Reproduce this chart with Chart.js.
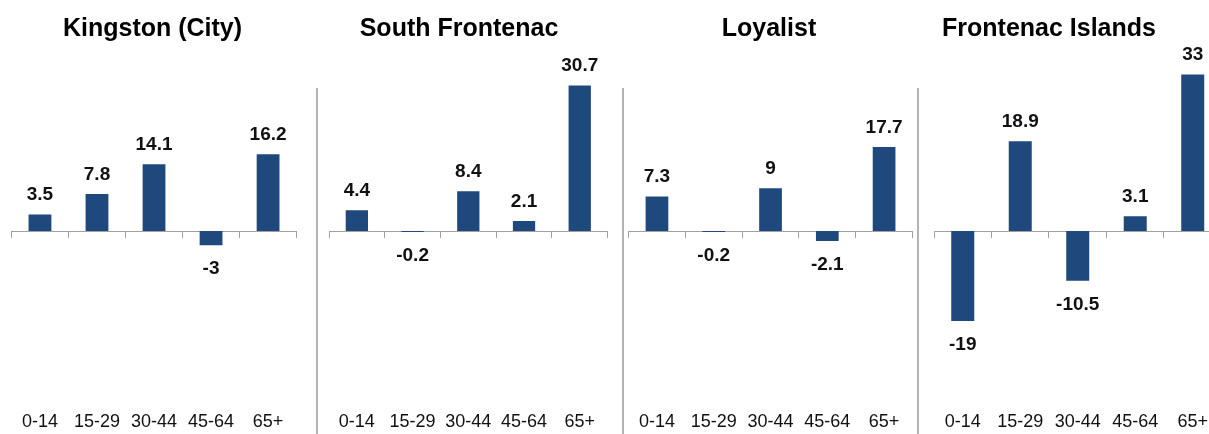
<!DOCTYPE html>
<html lang="en">

<head>
  <meta charset="UTF-8" />
  <title>Population change by age group</title>
  <script src="https://cdn.jsdelivr.net/npm/chart.js@4.4.1/dist/chart.umd.min.js"></script>
  <style>
    html, body { margin: 0; padding: 0; background: #fff; overflow: hidden; }
    body { width: 1209px; height: 434px; position: relative; }
    canvas { position: absolute; top: 0; }
    .sep { position: absolute; top: 88px; height: 346px; width: 2px; background: #b3b3b3; }
  </style>
</head>

<body>
  <canvas id="c0" width="289" height="434" style="left:8px"></canvas>
  <canvas id="c1" width="300" height="434" style="left:309px"></canvas>
  <canvas id="c2" width="288" height="434" style="left:625px"></canvas>
  <canvas id="c3" width="346" height="434" style="left:876px"></canvas>
  <div class="sep" style="left:316px"></div>
  <div class="sep" style="left:622px"></div>
  <div class="sep" style="left:917px"></div>

<script>
  // data
  const categories = ['0-14', '15-29', '30-44', '45-64', '65+'];
  const titles = ['Kingston (City)', 'South Frontenac', 'Loyalist', 'Frontenac Islands'];
  const kingston = [3.5, 7.8, 14.1, -3, 16.2];
  const southFrontenac = [4.4, -0.2, 8.4, 2.1, 30.7];
  const loyalist = [7.3, -0.2, 9, -2.1, 17.7];
  const frontenacIslands = [-19, 18.9, -10.5, 3.1, 33];
  const series = [kingston, southFrontenac, loyalist, frontenacIslands];

  // left space in each canvas before the plot area (keeps titles centred like the original)
  const leftPad = [0, 20, 0, 58];

  const FONT = '"Liberation Sans", Arial, sans-serif';
  Chart.defaults.font.family = FONT;

  // value labels above / below each bar
  const valueLabels = {
    id: 'valueLabels',
    afterDatasetsDraw(chart) {
      const ctx = chart.ctx;
      const meta = chart.getDatasetMeta(0);
      const data = chart.data.datasets[0].data;
      ctx.save();
      ctx.font = 'bold 19px ' + FONT;
      ctx.fillStyle = '#111';
      ctx.textAlign = 'center';
      ctx.textBaseline = 'alphabetic';
      meta.data.forEach((bar, i) => {
        const v = data[i];
        if (v >= 0) {
          ctx.fillText(String(v), bar.x, bar.y - 14);
        } else {
          ctx.fillText(String(v), bar.x, bar.y + 29);
        }
      });
      ctx.restore();
    }
  };

  series.forEach((values, i) => {
    new Chart(document.getElementById('c' + i).getContext('2d'), {
      type: 'bar',
      data: {
        labels: categories,
        datasets: [{
          data: values,
          backgroundColor: '#1f497d',
          barPercentage: 0.4,
          categoryPercentage: 1
        }]
      },
      options: {
        responsive: false,
        animation: false,
        layout: { padding: 0 },
        plugins: {
          legend: { display: false },
          tooltip: { enabled: false },
          title: {
            display: true,
            text: titles[i],
            color: '#000',
            font: { size: 25, weight: 'bold' },
            padding: { top: 14, bottom: 21 }
          }
        },
        scales: {
          y: {
            min: -35,
            max: 35,
            display: true,
            grid: { display: false },
            border: { display: false },
            ticks: { display: false },
            afterFit: s => { s.width = leftPad[i]; }
          },
          x: {
            axis: 'x',
            type: 'category',
            position: { y: 0 },
            offset: true,
            grid: {
              offset: true,
              drawOnChartArea: false,
              drawTicks: true,
              tickLength: 6,
              color: '#a0a0a0'
            },
            border: { display: true, color: '#a0a0a0', width: 1 },
            ticks: { display: false }
          },
          x2: {
            axis: 'x',
            type: 'category',
            position: 'bottom',
            offset: true,
            grid: { display: false, drawTicks: false },
            border: { display: false },
            ticks: {
              color: '#111',
              font: { size: 18 },
              padding: 14,
              maxRotation: 0,
              autoSkip: false
            },
            afterFit: s => { s.height = 37; }
          }
        }
      },
      plugins: [valueLabels]
    });
  });
</script>
</body>

</html>
